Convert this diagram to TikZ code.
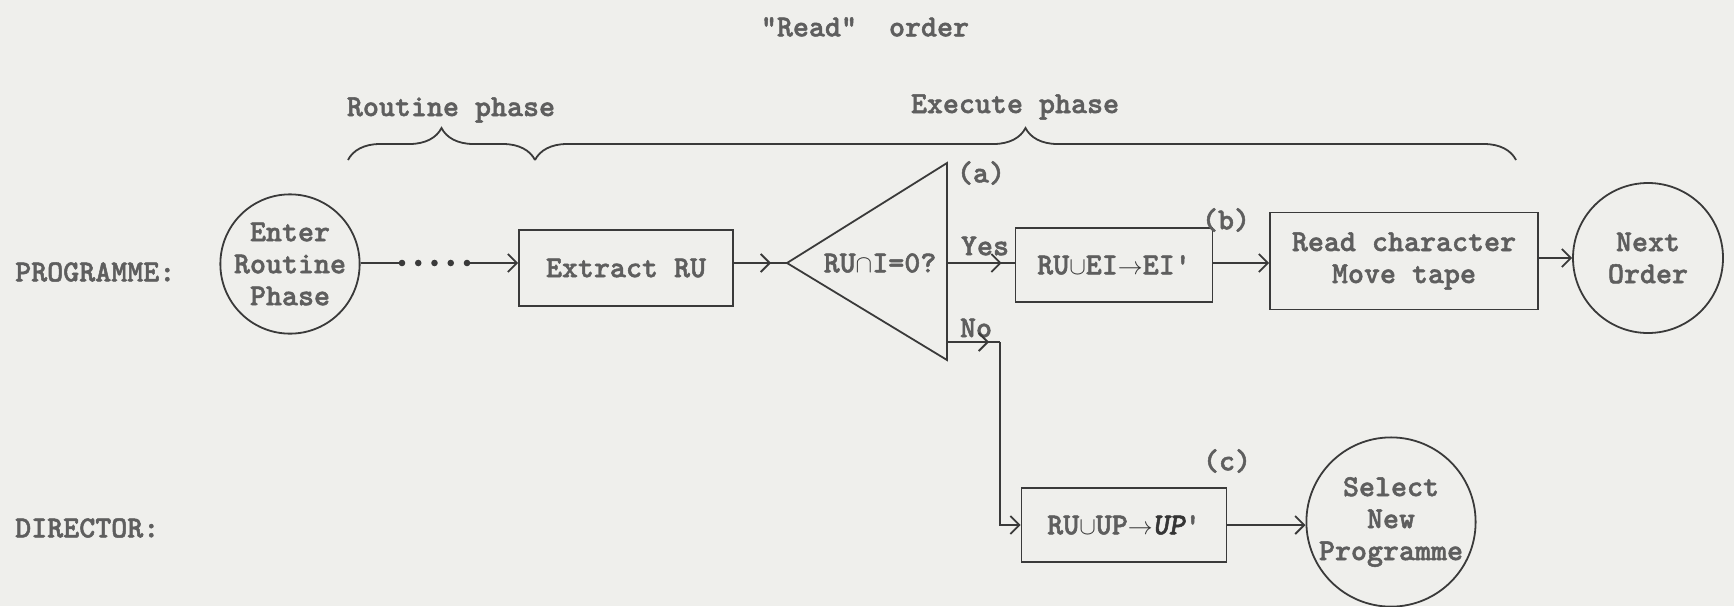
\documentclass[tikz,border=0pt]{standalone}
\usepackage{fontspec}
\newfontfamily\tw{lmmonolt10-bold.otf}[FakeBold=1.6]
\newfontfamily\twi{lmmonolt10-boldoblique.otf}[FakeBold=1.6]
\usetikzlibrary{arrows.meta,decorations.pathreplacing,decorations.markings}
\definecolor{paper}{HTML}{EFEFEC}
\definecolor{ink}{HTML}{3A3A3A}
\definecolor{typ}{HTML}{5E5E5E}
\definecolor{hand}{HTML}{353535}
\tikzset{
  tx/.style={font=\tw\fontsize{30.5}{32}\selectfont, text=typ, inner sep=0pt, align=center},
  boxn/.style={tx, draw=ink, line width=1.8pt, rectangle},
  circ/.style={tx, draw=ink, line width=1.8pt, circle, inner sep=0pt},
  conn/.style={draw=ink, line width=1.8pt},
  >={Straight Barb[length=9pt,width=18pt,line width=1.8pt]},
  midarr/.style={postaction={decorate}, decoration={markings, mark=at position #1 with {\arrow[ink]{>}}}},
  brc/.style={draw=ink, line width=1.8pt, decorate, decoration={brace, amplitude=32pt}}
}
\begin{document}
\begin{tikzpicture}[x=1pt,y=-1pt]
\fill[paper] (0,0) rectangle (1734,606);
\path[use as bounding box] (0,0) rectangle (1734,606);

% titles
\node[tx] (title) at (865,27) {"Read"\ \ order};
\node[tx] (rp) at (451,110) {Routine phase};
\node[tx] (ep) at (1015,107) {Execute phase};
\coordinate (br1) at (348,160);
\coordinate (br2) at (535,160);
\coordinate (br3) at (1516,160);
\draw[brc] (br1) -- (br2);
\draw[brc] (br2) -- (br3);

% row labels
\node[tx, anchor=west] (prog) at (15,272) {PROGRAMME:};
\node[tx, anchor=west] (dir) at (15,528) {DIRECTOR:};

% programme row
\node[circ, minimum size=132pt] (enter) at (290,264) {Enter\\Routine\\Phase};
\node[boxn, minimum width=214pt, minimum height=76pt] (extract) at (626,268) {Extract RU};
\coordinate (tip) at (787,263);
\coordinate (ttop) at (947,163);
\coordinate (tbot) at (947,360);
\draw[conn, line join=miter] (tip) -- (ttop) -- (tbot) -- cycle;
\node[tx] (cond) at (880,263) {RU{\color{hand}$\cap$}I=0?};
\node[tx] (la) at (981,173) {(a)};
\coordinate (yes0) at (947,263);
\node[tx] (yes) at (985,246) {Yes};
\node[boxn, minimum width=197pt, minimum height=74pt] (b2) at (1114,265) {RU{\color{hand}$\cup$}EI{\color{hand}$\rightarrow$}EI'};
\node[tx] (lb) at (1226,220) {(b)};
\node[boxn, minimum width=268pt, minimum height=97pt] (b3) at (1404,261) {Read character\\Move tape};
\node[circ, minimum size=150pt] (next) at (1648,258) {Next\\Order};

% director row
\coordinate (no0) at (947,342);
\coordinate (nocorner) at (1000,342);
\node[tx] (no) at (976,328) {No};
\node[boxn, minimum width=205pt, minimum height=74pt] (b4) at (1124,525) {RU{\color{hand}$\cup$}UP{\color{hand}$\rightarrow$\twi UP}'};
\node[tx] (lc) at (1227,461) {(c)};
\node[circ, minimum size=168pt] (select) at (1391,522) {Select\\New\\Programme};

% connectors
\coordinate (d1) at (402,263);
\coordinate (d2) at (467,263);
\draw[conn] (enter.east |- d1) -- (d1);
\foreach \i in {0,...,4} \fill[ink] (402+16.25*\i,263) circle (3.3pt);
\draw[conn,->] (d2) -- (extract.west |- d2);
\draw[conn, midarr=-16pt] (extract.east |- tip) -- (tip);
\draw[conn, midarr=-13pt] (yes0) -- (b2.west |- yes0);
\draw[conn,->] (b2.east |- yes0) -- (b3.west |- yes0);
\draw[conn,->] (b3.east |- next) -- (next.west);
\draw[conn, midarr=-11pt] (no0) -- (nocorner);
\draw[conn,->] (nocorner) |- (b4.west);
\draw[conn,->] (b4.east) -- (b4.east -| select.west);
\end{tikzpicture}
\end{document}
